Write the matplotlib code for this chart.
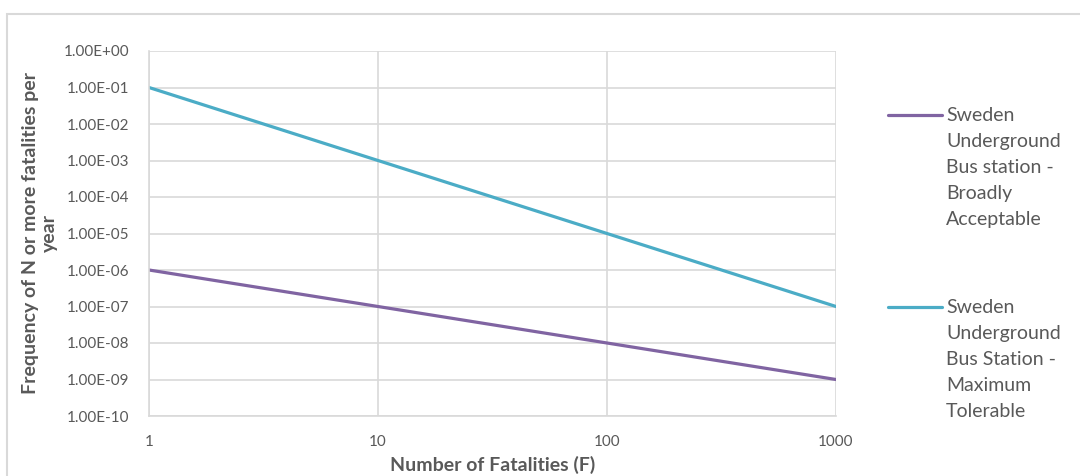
import matplotlib
matplotlib.use("Agg")
import matplotlib.pyplot as plt
from matplotlib.patches import Rectangle
from matplotlib.lines import Line2D
from matplotlib.ticker import FixedLocator, FixedFormatter, NullLocator

# F-N criterion lines (number of fatalities vs. frequency of N or more per year)
fatalities = [1, 10, 100, 1000]
broadly_acceptable = [1e-6, 1e-7, 1e-8, 1e-9]
maximum_tolerable = [1e-1, 1e-3, 1e-5, 1e-7]

series_labels = [
    "Sweden\nUnderground\nBus station -\nBroadly\nAcceptable",
    "Sweden\nUnderground\nBus Station -\nMaximum\nTolerable",
]
x_ticks = [1, 10, 100, 1000]
x_tick_labels = ["1", "10", "100", "1000"]
y_ticks = [10.0 ** e for e in range(0, -11, -1)]
y_tick_labels = ["1.00E+00"] + [f"1.00E-{k:02d}" for k in range(1, 11)]

PURPLE = "#8064A2"
TEAL = "#4BACC6"
TEXT = "#595959"
GRID = "#D9D9D9"

plt.rcParams["font.family"] = ["Lato", "DejaVu Sans"]

W, H = 1080, 476
fig = plt.figure(figsize=(W / 100, H / 100), dpi=100)
fig.patch.set_facecolor("white")


def fx(px):
    return px / W


def fy(py):
    return 1 - py / H


# Outer chart-area border (extends past the right and bottom edges)
fig.patches.append(Rectangle((fx(7), -0.05), 1.1, fy(14) + 0.05,
                             transform=fig.transFigure, fill=False,
                             edgecolor=GRID, linewidth=1.5))

left, right, top, bottom = 149, 836, 51, 416
ax = fig.add_axes([fx(left), fy(bottom), (right - left) / W, (bottom - top) / H])

ax.plot(fatalities, broadly_acceptable, color=PURPLE, lw=2.3,
        solid_capstyle="round")
ax.plot(fatalities, maximum_tolerable, color=TEAL, lw=2.3,
        solid_capstyle="round")

ax.set_xscale("log")
ax.set_yscale("log")
ax.set_xlim(1, 1000)
ax.set_ylim(1e-10, 1)

ax.xaxis.set_major_locator(FixedLocator(x_ticks))
ax.xaxis.set_major_formatter(FixedFormatter(x_tick_labels))
ax.xaxis.set_minor_locator(NullLocator())
ax.yaxis.set_major_locator(FixedLocator(y_ticks))
ax.yaxis.set_major_formatter(FixedFormatter(y_tick_labels))
ax.yaxis.set_minor_locator(NullLocator())

ax.grid(True, which="major", color=GRID, lw=1.2)
ax.set_axisbelow(True)
for side in ["top", "right"]:
    ax.spines[side].set_visible(False)
for side in ["left", "bottom"]:
    ax.spines[side].set_color(GRID)
    ax.spines[side].set_linewidth(1.2)

ax.tick_params(axis="both", length=0, labelsize=11, labelcolor=TEXT)
ax.tick_params(axis="x", pad=14)
ax.tick_params(axis="y", pad=14)

ax.set_xlabel("Number of Fatalities (F)", fontsize=14, fontweight="bold",
              color=TEXT, labelpad=5)
ax.set_ylabel("Frequency of N or more fatalities per\nyear", fontsize=14,
              fontweight="bold", color=TEXT, labelpad=4, linespacing=1.15)

# Legend: handle aligned with the first line of each multi-line label
legend_rows = [(115, PURPLE, series_labels[0]), (307, TEAL, series_labels[1])]
for y_px, color, label in legend_rows:
    fig.lines.append(Line2D([fx(888), fx(942)], [fy(y_px), fy(y_px)],
                            transform=fig.transFigure, color=color, lw=2.3,
                            solid_capstyle="round"))
    fig.text(fx(946), fy(y_px - 8), label, ha="left", va="top",
             fontsize=14, color=TEXT, linespacing=1.64)

fig.savefig("out.png", dpi=100, facecolor="white")
